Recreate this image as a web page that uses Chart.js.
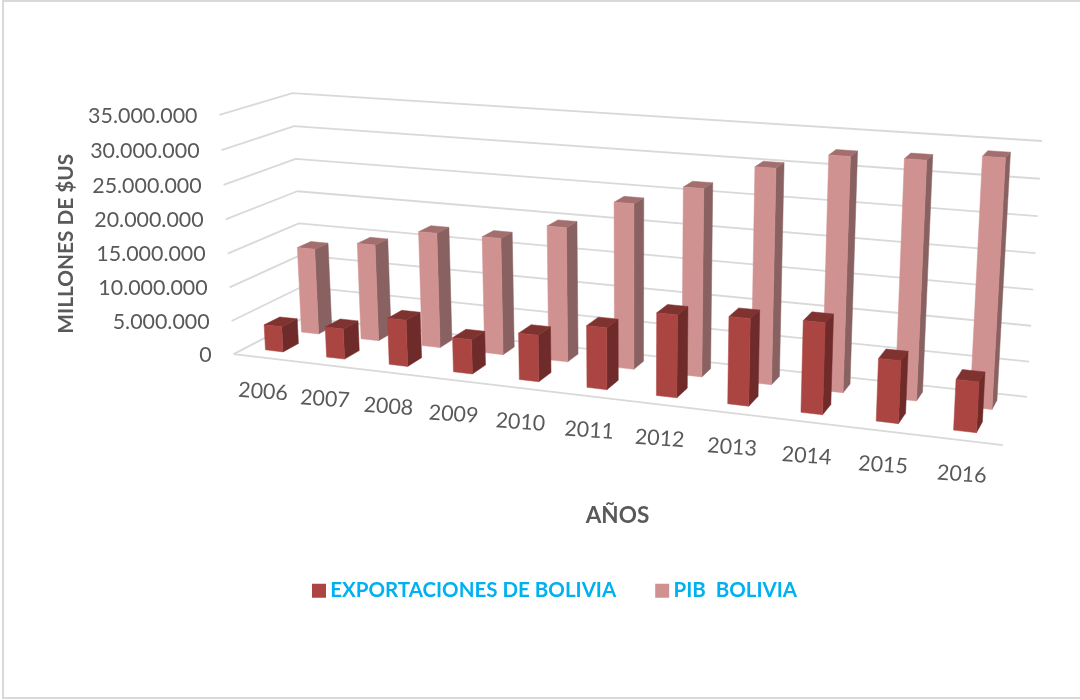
<!DOCTYPE html>
<html>
<head>
<meta charset="utf-8">
<title>Exportaciones y PIB de Bolivia</title>
<script src="https://cdn.jsdelivr.net/npm/chart.js@4"></script>
<style>
  html, body { margin: 0; background: #fff; }
  canvas { display: block; }
</style>
</head>
<body>
<canvas id="chart" width="1080" height="700"></canvas>
<script>
const years = ['2006', '2007', '2008', '2009', '2010', '2011', '2012', '2013', '2014', '2015', '2016'];
const exportaciones = [3800000, 4500000, 6800000, 5000000, 6700000, 8800000, 11600000, 12100000, 12550000, 8500000, 6800000];
const pib = [13100000, 14600000, 17200000, 17300000, 19700000, 23900000, 26800000, 30300000, 32600000, 32800000, 33800000];

// screen position of the box corners: [across, depth, height, px, py]
const corners = [
  [0, 0, 0, 234, 354], [0, 1, 0, 303, 318], [1, 1, 0, 1027, 397], [1, 0, 0, 1003, 445],
  [0, 0, 1, 219, 115], [0, 1, 1, 293, 93], [1, 1, 1, 1042, 141]
];
// depth range of each row (front = 0, back = 1) and a small sideways nudge
const rows = [
  { w0: 0.17, w1: 0.39, du: -0.003 },
  { w0: 0.66, w1: 0.86, du: 0 }
];
const faces = [
  { front: '#AB4542', side: '#6E2B29', top: '#7F3331' },
  { front: '#D09291', side: '#886160', top: '#A36F6E' }
];
const gridColor = '#D9D9D9';
const textColor = '#595959';
const fontName = 'Lato';

function solve(A, b) {
  const n = b.length;
  for (let i = 0; i < n; i++) {
    let p = i;
    for (let r = i + 1; r < n; r++) if (Math.abs(A[r][i]) > Math.abs(A[p][i])) p = r;
    [A[i], A[p]] = [A[p], A[i]];
    [b[i], b[p]] = [b[p], b[i]];
    for (let r = 0; r < n; r++) {
      if (r === i) continue;
      const f = A[r][i] / A[i][i];
      for (let c = i; c < n; c++) A[r][c] -= f * A[i][c];
      b[r] -= f * b[i];
    }
  }
  return b.map((v, i) => v / A[i][i]);
}

// perspective camera fitted on the corners by least squares
function fitCamera(points) {
  const rowsA = [], rowsB = [];
  points.forEach(([u, w, v, px, py]) => {
    rowsA.push([u, w, v, 1, 0, 0, 0, 0, -px * u, -px * w, -px * v]); rowsB.push(px);
    rowsA.push([0, 0, 0, 0, u, w, v, 1, -py * u, -py * w, -py * v]); rowsB.push(py);
  });
  const n = 11;
  const N = Array.from({ length: n }, (_, i) => Array.from({ length: n }, (_, j) =>
    rowsA.reduce((s, r) => s + r[i] * r[j], 0)));
  const t = Array.from({ length: n }, (_, i) => rowsA.reduce((s, r, k) => s + r[i] * rowsB[k], 0));
  const m = solve(N, t);
  return (u, w, v) => {
    const d = m[8] * u + m[9] * w + m[10] * v + 1;
    return [(m[0] * u + m[1] * w + m[2] * v + m[3]) / d, (m[4] * u + m[5] * w + m[6] * v + m[7]) / d];
  };
}
const project = fitCamera(corners);

function poly(ctx, pts, color) {
  ctx.beginPath();
  pts.forEach((p, i) => i ? ctx.lineTo(p[0], p[1]) : ctx.moveTo(p[0], p[1]));
  ctx.closePath();
  ctx.fillStyle = color;
  ctx.fill();
  ctx.strokeStyle = color;
  ctx.lineWidth = 0.5;
  ctx.stroke();
}

function line(ctx, pts) {
  ctx.beginPath();
  pts.forEach((p, i) => i ? ctx.lineTo(p[0], p[1]) : ctx.moveTo(p[0], p[1]));
  ctx.stroke();
}

const box3d = {
  id: 'box3d',
  beforeDraw(chart) {
    const ctx = chart.ctx;
    ctx.save();
    ctx.strokeStyle = gridColor;
    ctx.lineWidth = 2;
    ctx.strokeRect(3, 1, 1090, 697);
    ctx.restore();
  },
  // the bars and ticks come from the scales, they only get projected here
  beforeDatasetsDraw(chart) {
    const { ctx, chartArea: area, scales } = chart;
    const U = x => (x - area.left) / area.width;
    const V = y => (area.bottom - y) / area.height;
    ctx.save();

    ctx.strokeStyle = gridColor;
    ctx.lineWidth = 1.8;
    ctx.lineJoin = 'round';
    scales.y.ticks.forEach(t => {
      const v = V(scales.y.getPixelForValue(t.value));
      line(ctx, [project(0, 0, v), project(0, 1, v), project(1, 1, v)]);
    });
    line(ctx, [project(0, 0, 0), project(1, 0, 0)]);

    [1, 0].forEach(i => {
      const { w0, w1, du } = rows[i];
      const c = faces[i];
      chart.getDatasetMeta(i).data.forEach(bar => {
        const u0 = U(bar.x - bar.width / 2) + du, u1 = U(bar.x + bar.width / 2) + du;
        const v0 = V(bar.base), v1 = V(bar.y);
        poly(ctx, [project(u1, w0, v0), project(u1, w1, v0), project(u1, w1, v1), project(u1, w0, v1)], c.side);
        poly(ctx, [project(u0, w0, v1), project(u1, w0, v1), project(u1, w1, v1), project(u0, w1, v1)], c.top);
        poly(ctx, [project(u0, w0, v0), project(u1, w0, v0), project(u1, w0, v1), project(u0, w0, v1)], c.front);
      });
    });

    ctx.fillStyle = textColor;
    ctx.font = '21.4px ' + fontName;
    ctx.textAlign = 'right';
    ctx.textBaseline = 'middle';
    scales.y.ticks.forEach(t => {
      const p = project(0, 0, V(scales.y.getPixelForValue(t.value)));
      ctx.fillText(t.label, p[0] - 22, p[1] + 1);
    });
    ctx.textAlign = 'center';
    scales.x.ticks.forEach((t, i) => {
      const p = project(U(scales.x.getPixelForValue(i)), 0, 0);
      ctx.save();
      ctx.translate(p[0] - 1, p[1] + 34);
      ctx.rotate(4 * Math.PI / 180);
      ctx.fillText(t.label, 0, 0);
      ctx.restore();
    });
    ctx.restore();
    return false;
  }
};

new Chart(document.getElementById('chart'), {
  type: 'bar',
  data: {
    labels: years,
    datasets: [
      { label: 'EXPORTACIONES DE BOLIVIA', data: exportaciones, backgroundColor: faces[0].front, borderWidth: 0 },
      { label: 'PIB  BOLIVIA', data: pib, backgroundColor: faces[1].front, borderWidth: 0 }
    ]
  },
  options: {
    responsive: false,
    animation: false,
    layout: { padding: { left: 54, right: 19, top: 51, bottom: 89 } },
    datasets: { bar: { grouped: false, barPercentage: 0.29, categoryPercentage: 1 } },
    scales: {
      x: {
        grid: { display: false },
        border: { display: false },
        ticks: { display: false },
        title: {
          display: true, text: 'AÑOS', color: textColor,
          font: { family: fontName, size: 22.5, weight: 'bold' },
          padding: { top: 58, bottom: 6 }
        }
      },
      y: {
        min: 0,
        max: 35000000,
        grid: { display: false },
        border: { display: false },
        ticks: {
          display: false,
          stepSize: 5000000,
          callback: v => v.toLocaleString('de-DE')
        },
        title: {
          display: true, text: 'MILLONES DE $US', color: textColor,
          font: { family: fontName, size: 20.8, weight: 'bold' },
          padding: { top: 0, bottom: 87 }
        }
      }
    },
    plugins: {
      tooltip: { enabled: false },
      legend: {
        position: 'bottom',
        labels: {
          usePointStyle: true,
          pointStyle: 'rect',
          boxWidth: 2,
          boxHeight: 14,
          padding: 45,
          color: '#00B0F0',
          font: { family: fontName, size: 20.5, weight: 'bold' }
        }
      }
    }
  },
  plugins: [box3d]
});
</script>
</body>
</html>
